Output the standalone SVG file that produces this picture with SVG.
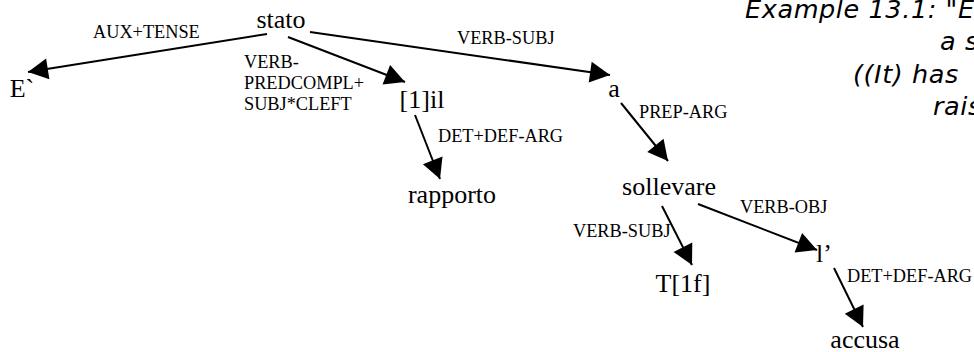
<svg xmlns="http://www.w3.org/2000/svg" width="974" height="352" viewBox="0 0 974 352">
<style>
.node{font-family:"Liberation Serif","Times New Roman",serif;font-size:26px;fill:#000;text-anchor:middle}
.lbl{font-family:"Liberation Serif","Times New Roman",serif;font-size:18.3px;fill:#000}
.edge{stroke:#000;stroke-width:2;fill:none;marker-end:url(#arr)}
.title{font-family:"DejaVu Sans",Verdana,sans-serif;font-style:italic;font-size:25.5px;letter-spacing:0.6px;fill:#000}
</style>
<defs>
<marker id="arr" markerUnits="userSpaceOnUse" markerWidth="22" markerHeight="22" refX="20" refY="10.5" orient="auto" overflow="visible">
<path d="M0,0 L20,10.5 L0,21 Z" fill="#000"/>
</marker>
</defs>
<rect width="974" height="352" fill="#fff"/>
<g id="title">
<text class="title" x="745" y="18">Example 13.1: "E</text>
<text class="title" x="940" y="50">a s</text>
<text class="title" x="853" y="83">((It) has </text>
<text class="title" x="933" y="115">rais</text>
</g>
<g id="connectors">
<line class="edge" x1="267" y1="34" x2="28" y2="72"/>
<text class="lbl" x="93" y="38">AUX+TENSE</text>
<line class="edge" x1="288" y1="37" x2="405" y2="82"/>
<text class="lbl" x="244" y="68">VERB-</text>
<text class="lbl" x="244" y="89">PREDCOMPL+</text>
<text class="lbl" x="244" y="110">SUBJ*CLEFT</text>
<line class="edge" x1="310" y1="32" x2="610" y2="75"/>
<text class="lbl" x="457" y="44">VERB-SUBJ</text>
<line class="edge" x1="415" y1="115" x2="440" y2="179"/>
<text class="lbl" x="438" y="142">DET+DEF-ARG</text>
<line class="edge" x1="621" y1="103" x2="668" y2="161"/>
<text class="lbl" x="639" y="118">PREP-ARG</text>
<line class="edge" x1="662" y1="206" x2="692" y2="265"/>
<text class="lbl" x="573" y="237">VERB-SUBJ</text>
<line class="edge" x1="698" y1="204" x2="817" y2="250"/>
<text class="lbl" x="740" y="213">VERB-OBJ</text>
<line class="edge" x1="834" y1="268" x2="863" y2="327"/>
<text class="lbl" x="847" y="282">DET+DEF-ARG</text>
</g>
<g id="n-stato"><text class="node" x="281" y="28">stato</text></g>
<g id="n-E"><text class="node" x="22" y="97">E`</text></g>
<g id="n-il"><text class="node" x="422" y="108">[1]il</text></g>
<g id="n-a"><text class="node" x="614" y="97">a</text></g>
<g id="n-rapporto"><text class="node" x="452" y="203">rapporto</text></g>
<g id="n-sollevare"><text class="node" x="669" y="195">sollevare</text></g>
<g id="n-T1f"><text class="node" x="683" y="292">T[1f]</text></g>
<g id="n-l"><text class="node" x="824" y="262">l’</text></g>
<g id="n-accusa"><text class="node" x="865" y="348">accusa</text></g>
</svg>
